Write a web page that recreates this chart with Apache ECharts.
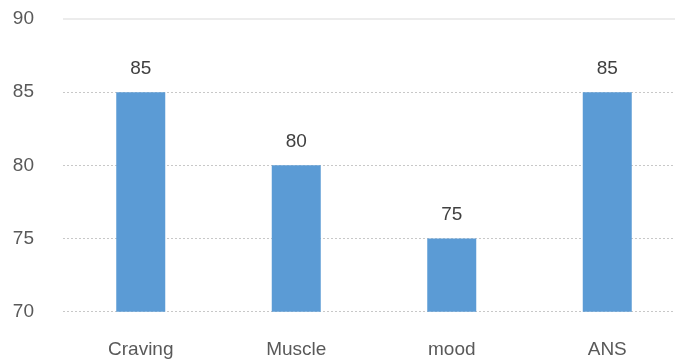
<!DOCTYPE html>
<html>
<head>
<meta charset="utf-8">
<script src="https://cdn.jsdelivr.net/npm/echarts@6/dist/echarts.min.js"></script>
<style>
  html, body { margin: 0; padding: 0; background: #ffffff; overflow: hidden; }
  #chart { width: 690px; height: 364px; }
</style>
</head>
<body>
<div id="chart"></div>
<script>
// Scores per category
const categories = ['Craving', 'Muscle', 'mood', 'ANS'];
const scores = [85, 80, 75, 85];
const yMin = 70;
const yMax = 90;
const yStep = 5;

const chart = echarts.init(document.getElementById('chart'), null, { renderer: 'canvas' });

// The plot area runs a little past the right edge of the visible page
chart.setOption({
  animation: false,
  backgroundColor: '#ffffff',
  textStyle: { fontFamily: 'Liberation Sans, Arial, sans-serif' },
  grid: { left: 63, right: 5, top: 19, bottom: 52.3, containLabel: false },
  xAxis: {
    type: 'category',
    data: categories,
    axisLine: { show: false },
    axisTick: { show: false },
    axisLabel: { color: '#595959', fontSize: 19, margin: 29 }
  },
  yAxis: {
    type: 'value',
    min: yMin,
    max: yMax,
    interval: yStep,
    axisLine: { show: false },
    axisTick: { show: false },
    axisLabel: { color: '#595959', fontSize: 19, margin: 29 },
    splitLine: {
      show: true,
      showMaxLine: false,
      lineStyle: { color: '#c8c8c8', type: [2, 2], width: 1 }
    }
  },
  series: [{
    type: 'bar',
    data: scores,
    barWidth: 49,
    itemStyle: { color: '#5B9BD5' },
    label: {
      show: true,
      position: 'top',
      distance: 14,
      color: '#404040',
      fontSize: 19
    },
    markLine: {
      silent: true,
      symbol: 'none',
      label: { show: false },
      lineStyle: { color: '#e6e6e6', type: 'solid', width: 1.5 },
      data: [{ yAxis: yMax }]
    }
  }]
});
</script>
</body>
</html>
